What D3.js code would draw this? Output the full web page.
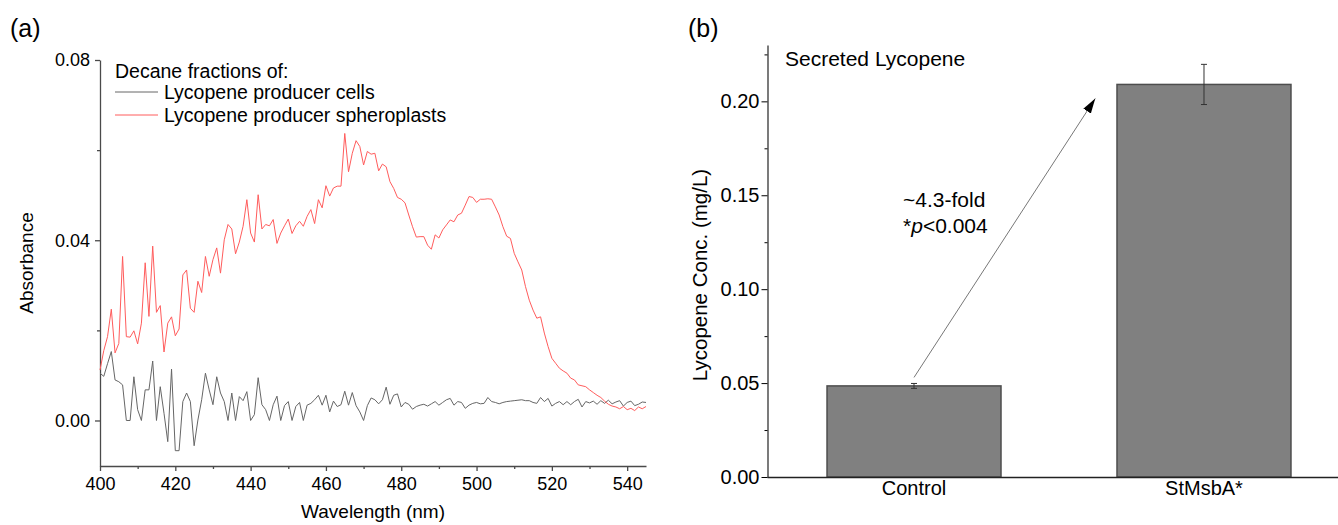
<!DOCTYPE html>
<html>
<head>
<meta charset="utf-8">
<script src="https://cdn.jsdelivr.net/npm/d3@7"></script>
<style>
  body { margin: 0; background: #fff; }
  text { font-family: "Liberation Sans", Arial, sans-serif; fill: #000; }
</style>
</head>
<body>
<div class="Figure"></div>
<script>
// panel (a) data: wavelength grid (nm) and the two absorbance spectra
const WAVELENGTHS = d3.range(400, 546);
const CELLS = [
  0.0105, 0.0098, 0.0126, 0.0153, 0.0090, 0.0086, 0.0079, 0.0000, 0.0000, 0.0097,
  0.0024, 0.0000, 0.0068, 0.0068, 0.0132, 0.0000, 0.0075, 0.0016, -0.0047, 0.0114,
  -0.0067, -0.0067, 0.0042, 0.0061, 0.0042, -0.0056, 0.0001, 0.0046, 0.0105, 0.0068,
  0.0035, 0.0097, 0.0061, 0.0042, 0.0000, 0.0061, 0.0000, 0.0053, 0.0044, 0.0064,
  0.0000, 0.0013, 0.0095, 0.0035, 0.0024, 0.0000, 0.0035, 0.0054, 0.0000, 0.0033,
  0.0042, 0.0000, 0.0031, 0.0040, 0.0000, 0.0034, 0.0038, 0.0046, 0.0056, 0.0034,
  0.0056, 0.0019, 0.0043, 0.0031, 0.0035, 0.0065, 0.0034, 0.0062, 0.0033, 0.0019,
  0.0000, 0.0033, 0.0050, 0.0046, 0.0037, 0.0046, 0.0074, 0.0036, 0.0056, 0.0059,
  0.0030, 0.0040, 0.0036, 0.0025, 0.0031, 0.0034, 0.0036, 0.0032, 0.0037, 0.0042,
  0.0034, 0.0040, 0.0046, 0.0049, 0.0034, 0.0042, 0.0040, 0.0027, 0.0034, 0.0038,
  0.0040, 0.0037, 0.0038, 0.0051, 0.0042, 0.0040, 0.0037, 0.0040, 0.0042, 0.0043,
  0.0044, 0.0045, 0.0046, 0.0044, 0.0044, 0.0040, 0.0038, 0.0051, 0.0042, 0.0049,
  0.0032, 0.0038, 0.0042, 0.0035, 0.0042, 0.0035, 0.0042, 0.0047, 0.0030, 0.0042,
  0.0039, 0.0043, 0.0036, 0.0044, 0.0038, 0.0045, 0.0037, 0.0041, 0.0044, 0.0032,
  0.0040, 0.0043, 0.0033, 0.0036, 0.0041, 0.0040
];
const SPHEROPLASTS = [
  0.0112, 0.0155, 0.0186, 0.0247, 0.0150, 0.0171, 0.0364, 0.0186, 0.0185, 0.0199,
  0.0170, 0.0216, 0.0350, 0.0231, 0.0387, 0.0240, 0.0255, 0.0152, 0.0216, 0.0230,
  0.0188, 0.0203, 0.0323, 0.0334, 0.0249, 0.0240, 0.0309, 0.0284, 0.0364, 0.0320,
  0.0357, 0.0383, 0.0327, 0.0401, 0.0435, 0.0425, 0.0370, 0.0396, 0.0431, 0.0490,
  0.0416, 0.0396, 0.0501, 0.0425, 0.0435, 0.0432, 0.0446, 0.0393, 0.0416, 0.0432,
  0.0447, 0.0415, 0.0432, 0.0442, 0.0431, 0.0453, 0.0468, 0.0437, 0.0490, 0.0472,
  0.0521, 0.0498, 0.0516, 0.0520, 0.0520, 0.0637, 0.0552, 0.0593, 0.0621, 0.0608,
  0.0567, 0.0597, 0.0591, 0.0593, 0.0554, 0.0569, 0.0563, 0.0530, 0.0515, 0.0495,
  0.0491, 0.0483, 0.0456, 0.0430, 0.0407, 0.0408, 0.0408, 0.0389, 0.0380, 0.0412,
  0.0405, 0.0423, 0.0434, 0.0445, 0.0441, 0.0456, 0.0460, 0.0478, 0.0497, 0.0495,
  0.0484, 0.0491, 0.0491, 0.0492, 0.0491, 0.0474, 0.0456, 0.0430, 0.0409, 0.0404,
  0.0371, 0.0352, 0.0334, 0.0297, 0.0267, 0.0245, 0.0227, 0.0230, 0.0194, 0.0164,
  0.0138, 0.0127, 0.0116, 0.0110, 0.0105, 0.0094, 0.0090, 0.0079, 0.0077, 0.0075,
  0.0068, 0.0062, 0.0056, 0.0051, 0.0043, 0.0036, 0.0032, 0.0030, 0.0026, 0.0031,
  0.0024, 0.0027, 0.0022, 0.0030, 0.0026, 0.0031
];
const XTICKS_A = [400, 420, 440, 460, 480, 500, 520, 540];
const XMINOR_A = [410, 430, 450, 470, 490, 510, 530];
const YTICKS_A = [0, 0.04, 0.08];
const YMINOR_A = [0.02, 0.06];

// panel (b) data
const GROUPS = ["Control", "StMsbA*"];
const MEANS = [0.0485, 0.209];
const ERRORS = [0.0013, 0.0107];
const YTICKS_B = [0, 0.05, 0.1, 0.15, 0.2];
const YMINOR_B = [0.025, 0.075, 0.125, 0.175, 0.225];
const ARROW_FROM = 0.053;
const ARROW_TO = 0.2015;

const WIDTH = 1338;
const HEIGHT = 525;

const SVG = d3
  .select(".Figure")
  .append("svg")
  .attr("width", WIDTH)
  .attr("height", HEIGHT);

// ---------- panel (a) ----------
const XA = d3.scaleLinear().domain([400, 545]).range([100, 646]);
const YA = d3.scaleLinear().domain([-0.0101, 0.08]).range([466, 60]);

const AXISCOLOR_A = "#4a4a4a";

const XAXIS_A = SVG.append("g")
  .attr("transform", "translate(0,466)")
  .call(d3.axisBottom(XA).tickValues(XTICKS_A).tickSize(5).tickSizeOuter(0));
XAXIS_A.selectAll("text").attr("y", 24).attr("dy", 0).style("font-size", "18px");

SVG.append("g")
  .attr("transform", "translate(0,466)")
  .call(d3.axisBottom(XA).tickValues(XMINOR_A).tickSize(3).tickFormat(""))
  .select(".domain").remove();

const YAXIS_A = SVG.append("g")
  .attr("transform", "translate(100,0)")
  .call(d3.axisLeft(YA).tickValues(YTICKS_A).tickFormat(d3.format(".2f")).tickSize(5).tickSizeOuter(0));
YAXIS_A.selectAll("text").attr("x", -10).style("font-size", "18px");

SVG.append("g")
  .attr("transform", "translate(100,0)")
  .call(d3.axisLeft(YA).tickValues(YMINOR_A).tickSize(3).tickFormat(""))
  .select(".domain").remove();

SVG.selectAll(".domain, .tick line")
  .attr("stroke", AXISCOLOR_A)
  .attr("stroke-width", 1.3);

const LINE_A = d3.line()
  .x((d, i) => XA(WAVELENGTHS[i]))
  .y(d => YA(d));

SVG.append("path")
  .datum(CELLS)
  .attr("d", LINE_A)
  .attr("fill", "none")
  .attr("stroke", "#666666")
  .attr("stroke-width", 1);

SVG.append("path")
  .datum(SPHEROPLASTS)
  .attr("d", LINE_A)
  .attr("fill", "none")
  .attr("stroke", "#ff5c5c")
  .attr("stroke-width", 1);

// legend
SVG.append("text").attr("x", 115).attr("y", 78).style("font-size", "19.5px").text("Decane fractions of:");
const LEGEND = [
  { label: "Lycopene producer cells", color: "#666666", y: 92 },
  { label: "Lycopene producer spheroplasts", color: "#ff5c5c", y: 115 }
];
LEGEND.forEach(l => {
  SVG.append("line")
    .attr("x1", 115).attr("x2", 158)
    .attr("y1", l.y).attr("y2", l.y)
    .attr("stroke", l.color).attr("stroke-width", 1);
  SVG.append("text")
    .attr("x", 164).attr("y", l.y + 7)
    .style("font-size", "19.5px")
    .text(l.label);
});

SVG.append("text")
  .attr("x", 373).attr("y", 518)
  .attr("text-anchor", "middle")
  .style("font-size", "19px")
  .text("Wavelength (nm)");

SVG.append("text")
  .attr("transform", "translate(33,263) rotate(-90)")
  .attr("text-anchor", "middle")
  .style("font-size", "19px")
  .text("Absorbance");

SVG.append("text").attr("x", 10).attr("y", 37).style("font-size", "25px").text("(a)");

// ---------- panel (b) ----------
const XB = d3.scaleBand().domain(GROUPS).range([767, 1351]).paddingInner(0.4).paddingOuter(0.207);
const YB = d3.scaleLinear().domain([0, 0.23]).range([477, 45]);
const BW = XB.bandwidth();

// bars
SVG.append("g")
  .selectAll("rect")
  .data(GROUPS)
  .join("rect")
  .attr("x", d => XB(d))
  .attr("y", (d, i) => YB(MEANS[i]))
  .attr("width", BW)
  .attr("height", (d, i) => YB(0) - YB(MEANS[i]))
  .attr("fill", "#808080")
  .attr("stroke", "#4d4d4d")
  .attr("stroke-width", 1.5);

// error bars
const ERR = SVG.append("g").attr("stroke", "#333").attr("stroke-width", 1);
GROUPS.forEach((g, i) => {
  const cx = XB(g) + BW / 2;
  const lo = YB(MEANS[i] - ERRORS[i]);
  const hi = YB(MEANS[i] + ERRORS[i]);
  ERR.append("line").attr("x1", cx).attr("x2", cx).attr("y1", lo).attr("y2", hi);
  ERR.append("line").attr("x1", cx - 3).attr("x2", cx + 3).attr("y1", lo).attr("y2", lo);
  ERR.append("line").attr("x1", cx - 3).attr("x2", cx + 3).attr("y1", hi).attr("y2", hi);
});

const XAXIS_B = SVG.append("g")
  .attr("transform", "translate(0,477)")
  .call(d3.axisBottom(XB).tickSize(0).tickSizeOuter(0));
XAXIS_B.selectAll("text").attr("y", 18).attr("dy", 0).style("font-size", "20px");

const YAXIS_B = SVG.append("g")
  .attr("transform", "translate(767.5,0)")
  .call(d3.axisLeft(YB).tickValues(YTICKS_B).tickFormat(d3.format(".2f")).tickSize(6).tickSizeOuter(0));
YAXIS_B.selectAll("text").attr("x", -8).style("font-size", "20px");

SVG.append("g")
  .attr("transform", "translate(767.5,0)")
  .call(d3.axisLeft(YB).tickValues(YMINOR_B).tickSize(3).tickFormat(""))
  .select(".domain").remove();

XAXIS_B.selectAll(".domain").attr("stroke", "#222").attr("stroke-width", 1.5);
YAXIS_B.selectAll(".domain").attr("stroke", "#333").attr("stroke-width", 1.3);

SVG.append("text")
  .attr("transform", "translate(707,275) rotate(-90)")
  .attr("text-anchor", "middle")
  .style("font-size", "20.5px")
  .text("Lycopene Conc. (mg/L)");

SVG.append("text").attr("x", 785).attr("y", 66).style("font-size", "21px").text("Secreted Lycopene");

// fold-change arrow
SVG.append("defs")
  .append("marker")
  .attr("id", "head")
  .attr("markerUnits", "userSpaceOnUse")
  .attr("viewBox", "0 -5 16 10")
  .attr("markerWidth", 16)
  .attr("markerHeight", 10)
  .attr("refX", 15)
  .attr("refY", 0)
  .attr("orient", "auto")
  .append("path")
  .attr("d", "M0,-4.5L15,0L0,4.5Z")
  .attr("fill", "#000");

SVG.append("line")
  .attr("x1", XB("Control") + BW / 2)
  .attr("y1", YB(ARROW_FROM))
  .attr("x2", XB("StMsbA*") - BW * 0.125)
  .attr("y2", YB(ARROW_TO))
  .attr("stroke", "#777")
  .attr("stroke-width", 1)
  .attr("marker-end", "url(#head)");

SVG.append("text").attr("x", 903).attr("y", 207).style("font-size", "21px").text("~4.3-fold");
const PTXT = SVG.append("text").attr("x", 903).attr("y", 233).style("font-size", "21px");
PTXT.append("tspan").text("*");
PTXT.append("tspan").style("font-style", "italic").text("p");
PTXT.append("tspan").text("<0.004");

SVG.append("text").attr("x", 688).attr("y", 37).style("font-size", "25px").text("(b)");
</script>
</body>
</html>
